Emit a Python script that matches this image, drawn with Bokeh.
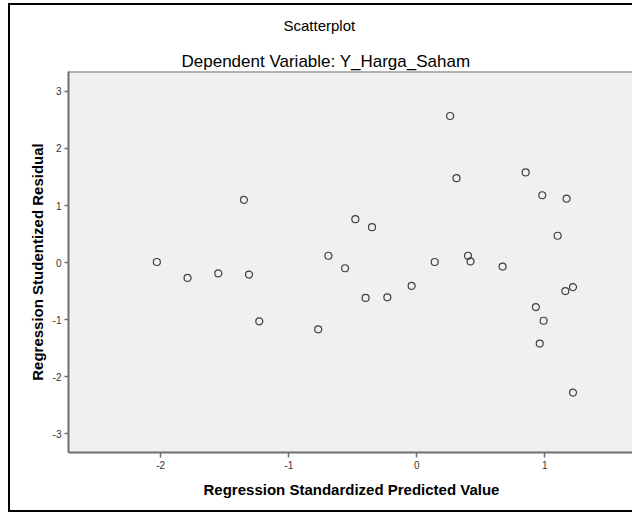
from bokeh.plotting import figure
from bokeh.models import Range1d, FixedTicker, Title, ColumnDataSource, Span
from bokeh.embed import file_html
from bokeh.resources import INLINE

predicted = [-2.03, -1.79, -1.55, -1.35, -1.31, -1.23, -0.77, -0.69, -0.56, -0.48,
             -0.40, -0.35, -0.23, -0.04, 0.14, 0.26, 0.31, 0.40, 0.42, 0.67,
             0.85, 0.93, 0.96, 0.99, 0.98, 1.10, 1.17, 1.16, 1.22, 1.22]
residual = [0.01, -0.27, -0.19, 1.10, -0.21, -1.03, -1.17, 0.12, -0.10, 0.76,
            -0.62, 0.62, -0.61, -0.41, 0.01, 2.57, 1.48, 0.12, 0.02, -0.07,
            1.58, -0.78, -1.42, -1.02, 1.18, 0.47, 1.12, -0.50, -0.43, -2.28]
x_ticks = [-2, -1, 0, 1]
y_ticks = [-3, -2, -1, 0, 1, 2, 3]

title_text = "Scatterplot"
subtitle_text = "Dependent Variable: Y_Harga_Saham"
x_label = "Regression Standardized Predicted Value"
y_label = "Regression Studentized Residual"

FONT = "Liberation Sans"
AXIS_COLOR = "#6e6e6e"

p = figure(width=624, height=509,
           x_range=Range1d(-2.72, 1.70), y_range=Range1d(-3.33, 3.35),
           output_backend="svg", toolbar_location=None,
           min_border_left=58, min_border_right=0, min_border_top=66, min_border_bottom=62,
           background_fill_color="#F0F0F0", border_fill_color="white",
           outline_line_color=None,
           styles={"margin-left": "8px", "margin-top": "3px",
                   "border-left": "2px solid black", "border-top": "2px solid black",
                   "border-bottom": "2px solid black"})

sub = Title(text=subtitle_text, align="left", offset=113, text_font=FONT,
            text_font_size="17px", text_font_style="normal", text_color="black", standoff=1)
spacer = Title(text=" ", text_font=FONT, text_font_size="1px", standoff=0)
main = Title(text=title_text, align="left", offset=215, text_font=FONT,
             text_font_size="15px", text_font_style="normal", text_color="black",
             vertical_align="top", standoff=21)
p.add_layout(sub, "above")
p.add_layout(spacer, "above")
p.add_layout(main, "above")

# top edge of the plot area
p.add_layout(Span(location=p.y_range.end, dimension="width",
                  line_color=AXIS_COLOR, line_width=2))

p.xgrid.visible = False
p.ygrid.visible = False

for ax, ticks in ((p.xaxis[0], x_ticks), (p.yaxis[0], y_ticks)):
    ax.ticker = FixedTicker(ticks=ticks)
    ax.major_label_overrides = {t: str(t) for t in ticks}
    ax.minor_tick_line_color = None
    ax.major_tick_in = 0
    ax.major_tick_out = 4
    ax.major_tick_line_color = AXIS_COLOR
    ax.major_tick_line_width = 1.5
    ax.axis_line_color = AXIS_COLOR
    ax.axis_line_width = 2
    ax.major_label_text_font = FONT
    ax.major_label_text_font_size = "10px"
    ax.major_label_text_color = "#333333"
    ax.major_label_standoff = 3
    ax.axis_label_text_font = FONT
    ax.axis_label_text_font_size = "15px"
    ax.axis_label_text_font_style = "bold"
    ax.axis_label_text_color = "black"

p.xaxis[0].axis_label = x_label
p.xaxis[0].axis_label_standoff = 9
p.xaxis[0].major_tick_out = 5
p.yaxis[0].axis_label = y_label
p.yaxis[0].axis_label_standoff = 4

src = ColumnDataSource(data=dict(x=predicted, y=residual))
p.scatter("x", "y", source=src, marker="circle", size=7,
          fill_color=None, line_color="#404040", line_width=1.2)

open("out.html", "w").write(file_html(p, INLINE))
